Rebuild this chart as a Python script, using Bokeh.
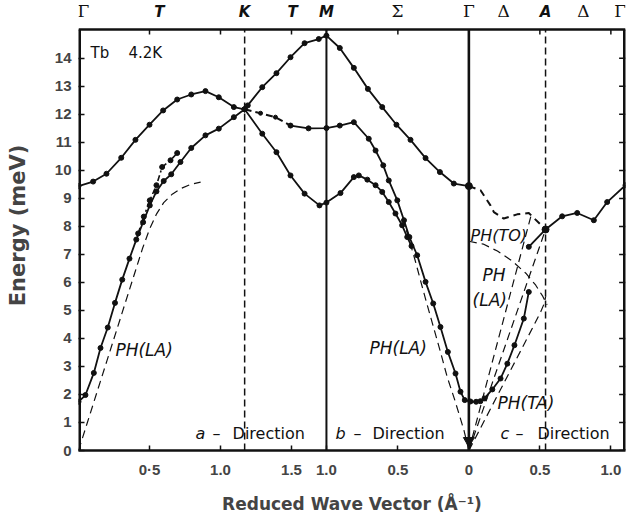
from bokeh.plotting import figure
from bokeh.models import LinearAxis, FixedTicker, Range1d, Label
from bokeh.core.properties import value
from bokeh.embed import file_html
from bokeh.resources import INLINE

# Positions of the symmetry points along the path Γ-K-M | M-Γ | Γ-A-Γ (Å^-1)
S_K, S_M, S_G2, S_A, S_G3 = 1.17, 1.746, 2.749, 3.289, 3.852
E_TOP = 15.03           # top of the energy frame (meV)
Y_EXT = 16.065          # plotting range also holds the row of symmetry labels

x_ticks = [0.5, 1.0, 1.5, S_M, round(S_G2 - 0.5, 3), S_G2, round(S_G2 + 0.5, 3), round(S_G2 + 1.0, 3)]
x_tick_labels = ["0·5", "1.0", "1.5", "1.0", "0.5", "0", "0.5", "1.0"]
y_ticks = list(range(0, 15))

greek_pos = [0.035, 2.246, S_G2, 2.993, 3.556, 3.815]
greek_text = ["Γ", "Σ", "Γ", "Δ", "Δ", "Γ"]
latin_pos = [0.57, S_K, 1.507, S_M, S_A]
latin_text = ["T", "K", "T", "M", "A"]

# ---- a-direction (Γ-K-M) ----
up_a_q = [0.0, 0.103, 0.197, 0.301, 0.401, 0.500, 0.596, 0.695, 0.794, 0.894, 0.988, 1.094, 1.17]
up_a_e = [9.44, 9.60, 9.88, 10.45, 11.09, 11.63, 12.14, 12.53, 12.71, 12.83, 12.61, 12.26, 12.18]

low_a_q = [0.0, 0.049, 0.108, 0.155, 0.206, 0.257, 0.308, 0.359, 0.407, 0.455, 0.502, 0.549,
           0.60, 0.653, 0.718, 0.794, 0.894, 0.988, 1.094, 1.17]
low_a_e = [1.74, 1.98, 2.77, 3.66, 4.39, 5.27, 6.10, 6.85, 7.53, 8.15, 8.75, 9.25,
           9.62, 9.86, 10.30, 10.80, 11.25, 11.49, 11.90, 12.18]

mag_a_q = [0.42, 0.46, 0.502, 0.549, 0.589, 0.648, 0.695]
mag_a_e = [7.75, 8.35, 8.93, 9.47, 10.12, 10.36, 10.62]

ph_la_a_q = [0.0, 0.1, 0.2, 0.3, 0.4, 0.45, 0.5, 0.55, 0.6, 0.66, 0.72, 0.79, 0.86]
ph_la_a_e = [0.0, 1.6, 3.2, 4.8, 6.4, 7.2, 7.9, 8.45, 8.85, 9.15, 9.35, 9.5, 9.58]

# ---- K-M and b-direction (M-Γ) ----
top_q = [1.17, 1.192, 1.294, 1.394, 1.493, 1.592, 1.692, 1.746, 1.84, 1.939, 2.038,
         2.139, 2.239, 2.338, 2.444, 2.545, 2.643, 2.749]
top_e = [12.18, 12.32, 12.97, 13.47, 14.04, 14.54, 14.69, 14.81, 14.37, 13.66, 12.91,
         12.26, 11.63, 11.09, 10.44, 9.94, 9.53, 9.44]

down_q = [1.17, 1.294, 1.394, 1.493, 1.592, 1.697, 1.746, 1.845, 1.939, 1.974, 2.034,
          2.092, 2.139, 2.185, 2.232, 2.279, 2.315, 2.345]
down_e = [12.18, 11.31, 10.65, 9.82, 9.17, 8.75, 8.85, 9.19, 9.76, 9.82, 9.67,
          9.47, 9.23, 8.87, 8.46, 8.04, 7.62, 7.3]

mid_dash_q = [1.17, 1.282, 1.387, 1.493]
mid_dash_e = [12.18, 12.04, 11.90, 11.60]

mid_q = [1.493, 1.62, 1.746, 1.84, 1.939, 2.044, 2.092, 2.146, 2.185, 2.245, 2.292, 2.33,
         2.385, 2.444, 2.498, 2.549, 2.601, 2.655, 2.69, 2.72, 2.76, 2.80, 2.83, 2.859,
         2.914, 2.972, 3.02, 3.07, 3.136, 3.171]
mid_e = [11.60, 11.50, 11.51, 11.60, 11.72, 11.13, 10.71, 10.18, 9.64, 8.93, 8.22, 7.62,
         6.97, 6.02, 5.25, 4.41, 3.52, 2.75, 2.1, 1.8, 1.75, 1.74, 1.76, 1.86,
         2.18, 2.57, 3.1, 3.76, 4.71, 5.66]

ph_la_b_q = [2.749, 2.714, 2.65, 2.596, 2.55, 2.50, 2.45, 2.408, 2.37, 2.33, 2.29]
ph_la_b_e = [0.0, 0.73, 1.8, 2.63, 3.5, 4.4, 5.3, 6.08, 6.8, 7.5, 8.2]

# ---- c-direction (Γ-A-Γ) ----
c_dash_q = [2.749, 2.831, 2.901, 2.925, 2.995, 3.089, 3.171, 3.289]
c_dash_e = [9.44, 9.29, 8.75, 8.51, 8.28, 8.43, 8.48, 7.89]

c_solid_q = [3.289, 3.406, 3.512, 3.629, 3.723, 3.852]
c_solid_e = [7.89, 8.36, 8.48, 8.22, 8.87, 9.47]

c_short_q = [3.171, 3.289]
c_short_e = [7.27, 7.89]

ph_to_q = [2.749, 2.85, 2.95, 3.05, 3.15, 3.22, 3.27, 3.30]
ph_to_e = [7.47, 7.37, 7.12, 6.78, 6.33, 5.9, 5.5, 5.2]

ph_la_c_q = [2.749, 3.19]
ph_la_c_e = [0.0, 8.45]

ph_la2_c_q = [2.749, 3.289]
ph_la2_c_e = [0.0, 7.89]

ph_ta_q = [2.749, 3.0, 3.2, 3.255, 3.28, 3.29]
ph_ta_e = [0.0, 2.45, 4.4, 4.95, 5.25, 5.5]


p = figure(width=627, height=517, x_range=Range1d(0, S_G3), y_range=Range1d(0, Y_EXT),
           output_backend="svg", toolbar_location=None,
           min_border_left=78, min_border_right=2, min_border_top=0, min_border_bottom=67,
           x_axis_location=None, y_axis_location=None)
p.grid.visible = False
p.outline_line_color = None
p.background_fill_color = "white"
p.border_fill_color = "white"

INK = "#111111"


def frame_axis(ax, ticks):
    ax.ticker = FixedTicker(ticks=ticks)
    ax.axis_line_width = 2.5
    ax.axis_line_color = INK
    ax.major_tick_in = 6
    ax.major_tick_out = 0
    ax.major_tick_line_width = 1.5
    ax.major_tick_line_color = INK
    ax.minor_tick_line_color = None


left = LinearAxis(axis_label="Energy (meV)")
frame_axis(left, y_ticks)
left.axis_line_color = None
left.major_label_text_font = "Liberation Sans"
left.major_label_text_font_style = "bold"
left.major_label_text_font_size = "15px"
left.major_label_standoff = 7
left.axis_label_text_font = "DejaVu Sans"
left.axis_label_text_font_style = "bold"
left.axis_label_text_font_size = "21px"
left.axis_label_standoff = 22
p.add_layout(left, "left")

bottom = LinearAxis(axis_label="Reduced Wave Vector (Å⁻¹)")
frame_axis(bottom, x_ticks)
bottom.major_tick_in = 5
bottom.major_label_overrides = {t: s for t, s in zip(x_ticks, x_tick_labels)}
bottom.major_label_text_font = "Liberation Sans"
bottom.major_label_text_font_style = "bold"
bottom.major_label_text_font_size = "15px"
bottom.major_label_standoff = 10
bottom.axis_label_text_font = "DejaVu Sans"
bottom.axis_label_text_font_style = "bold"
bottom.axis_label_text_font_size = "17px"
bottom.axis_label_standoff = 13
p.add_layout(bottom, "below")

# frame border: sides (half of the stroke falls outside the frame) and top edge
p.line([0, 0], [0, E_TOP], line_color=INK, line_width=5)
p.line([S_G3, S_G3], [0, E_TOP], line_color=INK, line_width=5)
p.line([0, S_G3], [E_TOP, E_TOP], line_color=INK, line_width=2.5)
# inward ticks along the top edge and the right edge
p.segment(x0=x_ticks, y0=[E_TOP] * len(x_ticks), x1=x_ticks, y1=[E_TOP - 0.18] * len(x_ticks),
          line_color=INK, line_width=1.5)
p.segment(x0=[S_G3] * len(y_ticks), y0=y_ticks, x1=[S_G3 - 0.045] * len(y_ticks), y1=y_ticks,
          line_color=INK, line_width=1.5)

# symmetry-point lines
p.segment(x0=[S_K, S_A], y0=[0, 0], x1=[S_K, S_A], y1=[E_TOP, E_TOP],
          line_color=INK, line_width=1.5, line_dash="7 4")
p.segment(x0=[S_M], y0=[0], x1=[S_M], y1=[E_TOP], line_color=INK, line_width=2)
p.segment(x0=[S_G2], y0=[0], x1=[S_G2], y1=[E_TOP], line_color=INK, line_width=2.6)

# symmetry-point names above the frame
p.text(x=greek_pos, y=[E_TOP + 0.3] * len(greek_pos), text=greek_text,
       text_align="center", text_baseline="bottom", text_font=value("DejaVu Serif"),
       text_font_size="17px", text_color=INK)
p.text(x=latin_pos, y=[E_TOP + 0.3] * len(latin_pos), text=latin_text,
       text_align="center", text_baseline="bottom", text_font=value("DejaVu Sans"),
       text_font_style="bold italic", text_font_size="15px", text_color=INK)

DASH = "8 5"

# measured branches (solid with points)
for q, e in [(up_a_q, up_a_e), (low_a_q, low_a_e), (top_q, top_e), (down_q, down_e),
             (mid_q, mid_e), (c_solid_q, c_solid_e), (c_short_q, c_short_e)]:
    p.line(q, e, line_color=INK, line_width=1.8)
    p.scatter(q, e, size=5, color=INK)

p.line(mag_a_q, mag_a_e, line_color=INK, line_width=1.6, line_dash="6 3 2 3")
p.scatter(mag_a_q, mag_a_e, size=5, color=INK)

p.line(mid_dash_q, mid_dash_e, line_color=INK, line_width=2, line_dash="7 4")
p.scatter(mid_dash_q[1:], mid_dash_e[1:], size=4, color=INK)

p.line(c_dash_q, c_dash_e, line_color=INK, line_width=2, line_dash="7 5")
p.scatter([c_dash_q[0], c_dash_q[-1]], [c_dash_e[0], c_dash_e[-1]], size=7, color=INK)

# phonon dispersion curves (dashed)
for q, e in [(ph_la_a_q, ph_la_a_e), (ph_la_b_q, ph_la_b_e), (ph_to_q, ph_to_e),
             (ph_la_c_q, ph_la_c_e), (ph_la2_c_q, ph_la2_c_e), (ph_ta_q, ph_ta_e)]:
    p.line(q, e, line_color=INK, line_width=1.2, line_dash=DASH)

p.scatter([S_G2], [0.35], marker="inverted_triangle", size=11, color=INK)


def note(x, y, text, size="16px", style="normal", font="DejaVu Sans"):
    p.add_layout(Label(x=x, y=y, text=text, text_align="left", text_baseline="middle",
                       text_font=font, text_font_style=style, text_font_size=size,
                       text_color=INK))


note(0.085, 14.2, "Tb", size="15px")
note(0.352, 14.2, "4.2K", size="15px")
note(0.824, 0.62, "a", style="italic")
note(0.943, 0.62, "–")
note(1.085, 0.62, "Direction")
note(1.81, 0.62, "b", style="italic")
note(1.937, 0.62, "–")
note(2.07, 0.62, "Direction")
note(2.972, 0.62, "c", style="italic")
note(3.077, 0.62, "–")
note(3.232, 0.62, "Direction")
note(0.26, 3.58, "PH(LA)", size="17px", style="italic")
note(2.049, 3.65, "PH(LA)", size="17px", style="italic")
note(2.761, 7.68, "PH(TO)", size="16px", style="italic")
note(2.845, 6.26, "PH", size="17px", style="italic")
note(2.775, 5.37, "(LA)", size="17px", style="italic")
note(2.951, 1.69, "PH(TA)", size="17px", style="italic")

open("out.html", "w").write(file_html(p, INLINE))
